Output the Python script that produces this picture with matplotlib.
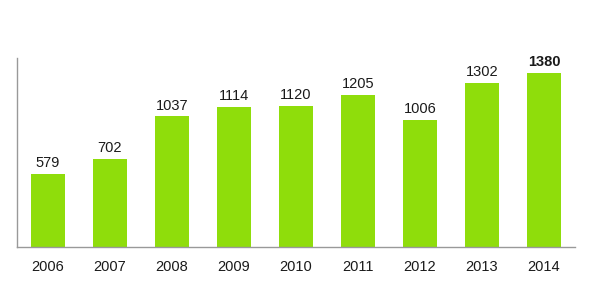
import matplotlib.pyplot as plt

years = ["2006", "2007", "2008", "2009", "2010", "2011", "2012", "2013", "2014"]
values = [579, 702, 1037, 1114, 1120, 1205, 1006, 1302, 1380]


def main():
    plt.rcParams['font.family'] = ['Liberation Sans', 'DejaVu Sans']
    fig = plt.figure(figsize=(5.9, 2.97), dpi=100)
    ax = fig.add_axes([0.0288, 0.168, 0.9458, 0.637])

    x = list(range(len(years)))
    ax.bar(x, values, width=0.55, color='#8fdd0b')

    # подписи над стубићима, последњи подебљан
    for i, v in enumerate(values):
        ax.text(i, v + 30, str(v), ha='center', va='bottom', fontsize=10.5,
                color='#1a1a1a', fontweight='bold' if i == len(values) - 1 else 'normal')

    ax.set_xlim(-0.5, 8.5)
    ax.set_ylim(0, 1500)
    ax.set_xticks(x)
    ax.set_xticklabels(years, fontsize=10.5, color='#1a1a1a')
    ax.set_yticks([])
    ax.tick_params(axis='x', length=0, pad=9)

    for side in ['top', 'right']:
        ax.spines[side].set_visible(False)
    for side in ['left', 'bottom']:
        ax.spines[side].set_color('#999999')
        ax.spines[side].set_linewidth(1)

    fig.savefig("out.png", dpi=100)


if __name__ == '__main__':
    main()
